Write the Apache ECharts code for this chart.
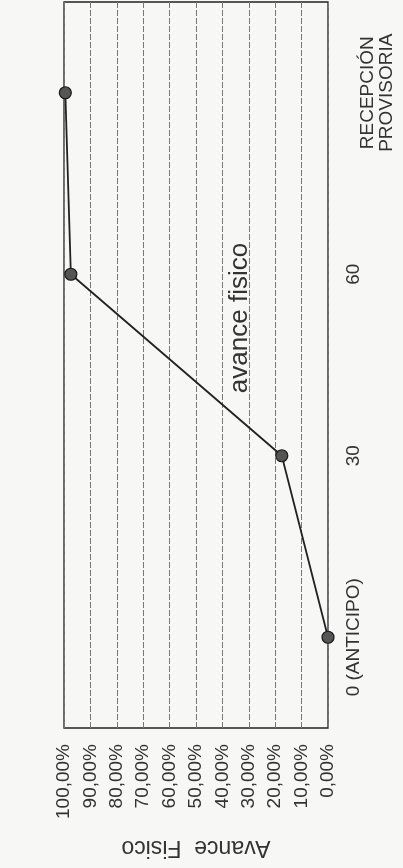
<!DOCTYPE html>
<html>
<head>
<meta charset="utf-8">
<script src="https://cdn.jsdelivr.net/npm/echarts@6/dist/echarts.min.js"></script>
<style>
html,body{margin:0;padding:0;background:#f7f7f6;}
#chart{width:403px;height:868px;}
</style>
</head>
<body>
<div id="chart"></div>
<script>
var categories = ['0 (ANTICIPO)', '30', '60', 'RECEPCIÓN\nPROVISORIA'];
var avanceFisico = [0, 0.175, 0.974, 0.995];
var titleText = 'avance fisico';
var axisTitle = 'Avance  Fisico';

var chart = echarts.init(document.getElementById('chart'));
var FONT = 'Liberation Sans, Arial, sans-serif';
chart.setOption({
  backgroundColor: '#f7f7f6',
  animation: false,
  grid: {
    left: 64, right: 75, top: 2, bottom: 140,
    show: true, borderColor: '#222', borderWidth: 1.3, backgroundColor: 'transparent'
  },
  graphic: [{
    type: 'text',
    x: 240, y: 318,
    rotation: Math.PI / 2,
    style: {
      text: titleText, fontSize: 26, fontFamily: FONT, fill: '#333',
      align: 'center', verticalAlign: 'middle'
    }
  }],
  xAxis: {
    type: 'value', inverse: true, min: 0, max: 1, interval: 0.1,
    position: 'bottom',
    name: axisTitle, nameLocation: 'middle', nameRotate: 180, nameGap: 108,
    nameTextStyle: { fontSize: 23, fontFamily: FONT, color: '#333' },
    axisLine: { show: false }, axisTick: { show: false },
    axisLabel: {
      rotate: 90, margin: 16, fontSize: 19, fontFamily: FONT, color: '#333',
      formatter: function (v) { return (v * 100).toFixed(2).replace('.', ',') + '%'; }
    },
    splitLine: { show: true, lineStyle: { color: '#777', width: 1, type: [6, 2] } }
  },
  yAxis: {
    type: 'category', position: 'right', boundaryGap: true,
    data: categories.map(function (c, i) {
      return i === categories.length - 1
        ? { value: c, textStyle: { lineHeight: 19, padding: [14, 0, 0, 0] } }
        : c;
    }),
    axisLine: { show: false }, axisTick: { show: false }, splitLine: { show: false },
    axisLabel: { rotate: 90, margin: 16, fontSize: 19, fontFamily: FONT, color: '#333' }
  },
  series: [{
    type: 'line',
    data: avanceFisico,
    symbol: 'circle', symbolSize: 12,
    lineStyle: { color: '#222', width: 1.8 },
    itemStyle: { color: '#555', borderColor: '#1a1a1a', borderWidth: 1.2 }
  }]
});
</script>
</body>
</html>
